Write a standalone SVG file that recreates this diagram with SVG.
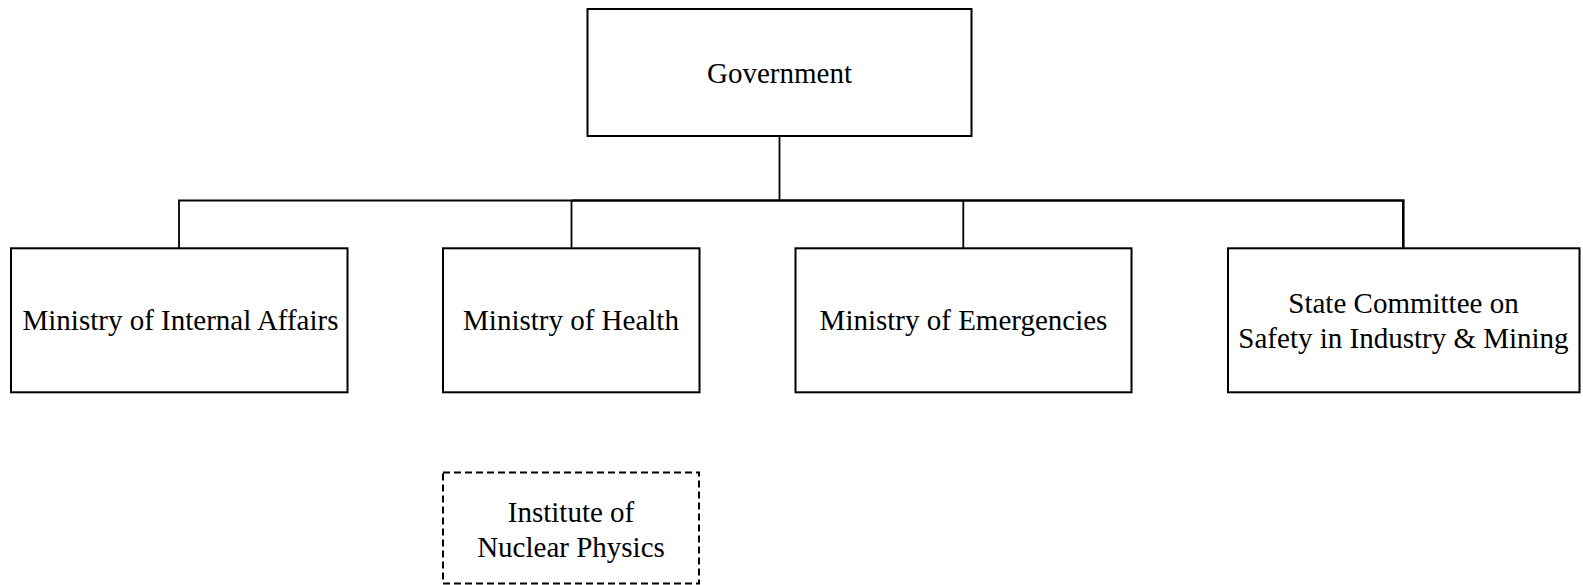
<svg xmlns="http://www.w3.org/2000/svg" width="1583" height="585" viewBox="0 0 1583 585">
<style>
.box{fill:#fff;stroke:#000;stroke-width:2}
.dash{fill:#fff;stroke:#000;stroke-width:2;stroke-dasharray:7 4}
.lbl{font-family:"Liberation Serif","Times New Roman",serif;font-size:29px;fill:#000;text-anchor:middle}
.c{fill:none;stroke:#000;stroke-width:1.8}
.ct{fill:none;stroke:#000;stroke-width:2.6}
</style>
<rect width="1583" height="585" fill="#fff"/>
<g id="connectors">
<path class="c" d="M779.5 136V200.5"/>
<path class="c" d="M179 248V200.5H571.5"/>
<path class="c" d="M571.5 200.5V248"/>
<path class="ct" d="M571.5 200.5H1403.3V248"/>
<path class="c" d="M963.3 200.5V248"/>
</g>
<g id="government">
<rect class="box" x="587.5" y="9" width="384" height="127"/>
<text class="lbl" x="779.5" y="82.5">Government</text>
</g>
<g id="internal-affairs">
<rect class="box" x="11" y="248.3" width="336.5" height="144"/>
<text class="lbl" x="180.5" y="330">Ministry of Internal Affairs</text>
</g>
<g id="health">
<rect class="box" x="443" y="248.3" width="256.5" height="144"/>
<text class="lbl" x="571" y="330">Ministry of Health</text>
</g>
<g id="emergencies">
<rect class="box" x="795.5" y="248.3" width="336" height="144"/>
<text class="lbl" x="963.5" y="330">Ministry of Emergencies</text>
</g>
<g id="state-committee">
<rect class="box" x="1228" y="248.3" width="351.5" height="144"/>
<text class="lbl" x="1403.5" y="312.5">State Committee on</text>
<text class="lbl" x="1403.5" y="348">Safety in Industry &amp; Mining</text>
</g>
<g id="nuclear-physics">
<rect class="dash" x="443" y="472.5" width="256" height="111"/>
<text class="lbl" x="571" y="521.5">Institute of</text>
<text class="lbl" x="571" y="556.5">Nuclear Physics</text>
</g>
</svg>
